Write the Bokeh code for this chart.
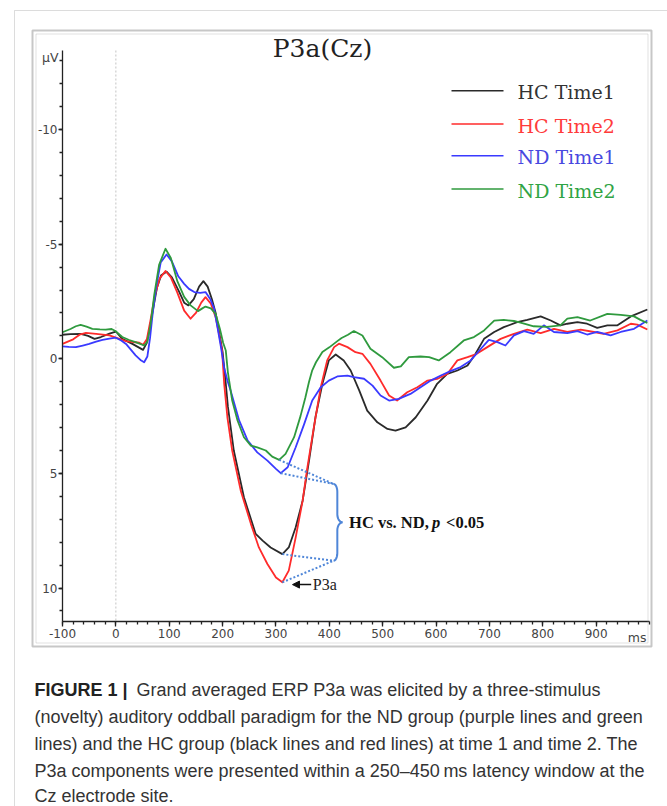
import numpy as np
from bokeh.plotting import figure
from bokeh.models import (Range1d, FixedTicker, Label, BoxAnnotation, Arrow, NormalHead,
                          LinearAxis, PrintfTickFormatter)
from bokeh.embed import file_html
from bokeh.resources import INLINE

# ---------------- data (ms, microvolts) ----------------
HC_T1_MS = [-100, -85, -66, -52, -40, -28, -12, 0, 12, 31, 51, 58, 64, 70, 77, 85, 95, 105, 118, 128,
            136, 146, 156, 164, 172, 180, 187, 194, 200, 206, 210, 221, 240, 262, 275, 290, 312, 324, 337,
            350, 362, 374, 387, 399, 412, 427, 440, 456, 471, 490, 509, 524, 543, 562, 584, 602, 621, 640,
            659, 674, 690, 709, 727, 752, 771, 796, 815, 833, 846, 865, 883, 902, 921, 940, 965, 996]
HC_T1_UV = [-1.05, -1.08, -1.09, -1.00, -0.87, -0.95, -1.10, -1.19, -0.87, -0.65, -0.39, -0.70, -1.40,
            -2.20, -3.10, -3.65, -3.80, -3.55, -2.95, -2.45, -2.33, -2.60, -3.15, -3.39, -3.15, -2.60,
            -2.00, -1.10, -0.30, 1.09, 2.10, 4.00, 6.04, 7.64, 7.93, 8.23, 8.52, 8.23, 7.35, 6.19, 4.44,
            2.55, 1.09, 0.07, -0.19, 0.07, 0.51, 1.38, 2.26, 2.77, 3.06, 3.13, 2.99, 2.55, 1.82, 1.09,
            0.66, 0.51, 0.29, -0.22, -0.87, -1.17, -1.38, -1.60, -1.70, -1.85, -1.67, -1.46, -1.53,
            -1.60, -1.53, -1.35, -1.46, -1.46, -1.85, -2.15]

HC_T2_MS = [-100, -90, -80, -68, -56, -37, -12, 0, 19, 44, 51, 58, 65, 73, 82, 93, 103, 115, 128, 140,
            150, 160, 168, 178, 187, 194, 199, 203, 209, 218, 234, 253, 268, 284, 300, 312, 324, 337, 350,
            359, 371, 384, 396, 409, 418, 434, 449, 462, 477, 496, 512, 527, 546, 565, 584, 602, 621, 640,
            659, 674, 696, 721, 746, 771, 796, 821, 846, 871, 896, 914, 940, 965, 977, 996]
HC_T2_UV = [-0.65, -0.75, -0.85, -1.05, -1.13, -1.09, -1.02, -0.92, -0.77, -0.70, -0.61, -0.85, -1.70,
            -2.75, -3.50, -3.83, -3.55, -2.90, -2.10, -1.75, -2.00, -2.45, -2.69, -2.40, -1.82, -1.00,
            -0.36, 1.09, 2.55, 4.00, 5.75, 7.20, 8.23, 8.95, 9.54, 9.75, 9.24, 7.79, 6.19, 4.73, 2.99,
            1.24, 0.07, -0.51, -0.66, -0.51, -0.29, -0.22, 0.22, 0.95, 1.60, 1.82, 1.46, 1.24, 0.95,
            0.88, 0.66, 0.07, -0.07, -0.19, -0.51, -0.87, -1.09, -1.27, -1.12, -1.31, -1.17, -1.27,
            -1.17, -1.09, -1.24, -1.53, -1.49, -1.28]

ND_T1_MS = [-100, -88, -75, -62, -50, -37, -25, -12, 0, 10, 19, 28, 37, 46, 53, 59, 64, 69, 76, 84, 95,
            105, 117, 128, 137, 147, 158, 168, 177, 184, 191, 197, 203, 209, 215, 231, 247, 265, 284, 300,
            309, 322, 337, 353, 368, 384, 399, 415, 434, 446, 465, 481, 496, 512, 530, 552, 571, 590, 609,
            627, 646, 665, 684, 699, 715, 730, 746, 765, 783, 802, 821, 846, 865, 883, 902, 927, 946, 971, 996]
ND_T1_UV = [-0.54, -0.52, -0.51, -0.58, -0.65, -0.75, -0.83, -0.88, -0.92, -0.80, -0.65, -0.40, -0.15,
            0.05, 0.15, -0.10, -0.90, -1.98, -3.20, -4.20, -4.55, -4.25, -3.60, -3.27, -3.05, -2.91, -2.88,
            -2.91, -2.60, -2.20, -1.30, -0.50, 0.40, 0.95, 1.38, 2.69, 3.57, 4.08, 4.44, 4.80, 4.99, 4.73,
            3.86, 2.84, 1.82, 1.24, 0.95, 0.77, 0.73, 0.80, 0.87, 1.17, 1.60, 1.82, 1.75, 1.53, 1.24, 0.95,
            0.73, 0.54, 0.36, 0.07, -0.44, -0.83, -0.73, -0.58, -1.02, -1.21, -1.09, -1.46, -1.17, -1.12,
            -1.21, -1.06, -1.17, -1.02, -1.17, -1.31, -1.67]

ND_T2_MS = [-100, -85, -75, -66, -55, -44, -30, -19, -8, 0, 12, 25, 37, 53, 59, 65, 72, 81, 93, 103, 115,
            128, 140, 154, 162, 168, 178, 187, 195, 201, 206, 210, 218, 228, 240, 253, 265, 281, 293, 306,
            318, 334, 346, 355, 362, 368, 375, 387, 400, 415, 423, 435, 446, 462, 477, 499, 521, 534, 549,
            571, 587, 605, 627, 652, 671, 690, 709, 727, 746, 765, 783, 808, 833, 846, 865, 889, 921, 946,
            971, 983, 996]
ND_T2_UV = [-1.16, -1.30, -1.42, -1.48, -1.40, -1.31, -1.28, -1.27, -1.30, -1.20, -0.95, -0.82, -0.73,
            -0.58, -0.75, -1.50, -2.80, -4.10, -4.80, -4.40, -3.40, -2.70, -2.33, -2.08, -2.20, -2.28,
            -2.20, -1.96, -1.30, -0.70, -0.36, 0.60, 1.82, 2.69, 3.42, 3.79, 3.86, 4.00, 4.27, 4.41, 4.15,
            3.42, 2.50, 1.70, 1.00, 0.50, 0.15, -0.30, -0.50, -0.77, -0.91, -1.05, -1.21, -1.02, -0.44,
            -0.07, 0.39, 0.33, -0.07, -0.10, -0.07, 0.07, -0.29, -0.80, -0.95, -1.24, -1.67, -1.70, -1.65,
            -1.53, -1.42, -1.39, -1.46, -1.75, -1.82, -1.67, -1.96, -1.92, -1.85, -1.70, -1.56]

SERIES_NAMES = ["HC Time1", "HC Time2", "ND Time1", "ND Time2"]
LINE_COLORS = ["#2a2a2a", "#ff2b2b", "#3a3aff", "#2f9a3e"]
LEGEND_TEXT_COLORS = ["#333333", "#ff3b3b", "#4848e0", "#30a444"]

X_TICKS = list(range(-100, 1000, 100))
X_MINOR = list(range(-100, 1001, 20))
Y_TICKS = [-10, -5, 0, 5, 10]
Y_MINOR = list(range(-13, 12))
X_START, X_END = -100, 1000
Y_TOP, Y_BOTTOM = -13.45, 11.46

# annotation anchors (data units)
BRACE_X_END, BRACE_X_BODY, BRACE_X_TIP = 408, 415, 425
BRACE_TOP, BRACE_BOT = 5.46, 8.81
SIG_TEXT_X = 437
P3A_ARROW_FROM, P3A_ARROW_TO, P3A_Y, P3A_TEXT_X = 366, 331, 9.85, 369
TROUGH_WINDOW = (250, 350)

CAPTION_BOLD = "FIGURE 1 |"
CAPTION_LINES = [
    "Grand averaged ERP P3a was elicited by a three-stimulus",
    "(novelty) auditory oddball paradigm for the ND group (purple lines and green",
    "lines) and the HC group (black lines and red lines) at time 1 and time 2. The",
    "P3a components were presented within a 250\u2013450\u2009ms latency window at the",
    "Cz electrode site.",
]

# ---------------- layout (page pixel coordinates) ----------------
W, H = 667, 806
PAGE_L, PAGE_R, PAGE_T, PAGE_B = 0, W, 0, H
PLOT_L, PLOT_R, PLOT_T, PLOT_B = 62, 649, 50, 621   # where the data area sits on the page

kx = (X_END - X_START) / (PLOT_R - PLOT_L)      # ms per pixel
ky = (Y_BOTTOM - Y_TOP) / (PLOT_B - PLOT_T)     # uV per pixel (downwards)
ms_range = Range1d(X_START - (PLOT_L - PAGE_L) * kx, X_END + (PAGE_R - PLOT_R) * kx)
uv_range = Range1d(Y_TOP + (PAGE_B - PLOT_T) * ky, Y_TOP + (PAGE_T - PLOT_T) * ky)

p = figure(width=W, height=H, output_backend="svg", toolbar_location=None,
           x_range=Range1d(PAGE_L, PAGE_R), y_range=Range1d(PAGE_B, PAGE_T),
           x_axis_location=None, y_axis_location=None, min_border=0,
           background_fill_color="white", border_fill_color="white", outline_line_color=None)
p.title.visible = False
p.grid.visible = False
p.extra_x_ranges = {"ms": ms_range}
p.extra_y_ranges = {"uv": uv_range}
D = dict(x_range_name="ms", y_range_name="uv")

xaxis = LinearAxis(fixed_location=Y_BOTTOM, bounds=(X_START, X_END),
                   ticker=FixedTicker(ticks=X_TICKS, minor_ticks=X_MINOR),
                   formatter=PrintfTickFormatter(format="%d"), **D)
yaxis = LinearAxis(fixed_location=X_START, bounds=(Y_TOP, Y_BOTTOM),
                   ticker=FixedTicker(ticks=Y_TICKS, minor_ticks=Y_MINOR),
                   formatter=PrintfTickFormatter(format="%d"), **D)
for ax in (xaxis, yaxis):
    ax.axis_line_color = "#222222"
    ax.axis_line_width = 1.3
    ax.major_tick_line_color = "#222222"
    ax.minor_tick_line_color = "#222222"
    ax.major_tick_line_width = 1.3
    ax.minor_tick_line_width = 1.3
    ax.major_tick_in = 0
    ax.minor_tick_in = 0
    ax.major_label_text_font = "DejaVu Sans"
    ax.major_label_text_font_size = "12px"
    ax.major_label_text_color = "#444444"
xaxis.major_tick_out = 5
xaxis.minor_tick_out = 3
xaxis.major_label_standoff = 2
yaxis.major_tick_out = 4
yaxis.minor_tick_out = 3
yaxis.major_label_standoff = 1
p.add_layout(xaxis, "below")
p.add_layout(yaxis, "left")

# outer picture border and double chart frame (page coordinates)
p.add_layout(BoxAnnotation(left=14, right=720, top=10, bottom=900, fill_alpha=0,
                           line_color="#8a8a8a", line_width=1))
p.add_layout(BoxAnnotation(left=32, right=651, top=30, bottom=646, fill_alpha=0,
                           line_color="#444444", line_width=2))
p.add_layout(BoxAnnotation(left=35.5, right=647.5, top=33.5, bottom=642.5, fill_alpha=0,
                           line_color="#9a9a9a", line_width=1))

# stimulus onset (dotted)
p.segment(x0=[0], y0=[Y_TOP], x1=[0], y1=[Y_BOTTOM], line_color="#c4c4c4", line_width=1,
          line_dash="2 2", **D)

# curves
series = [(HC_T1_MS, HC_T1_UV), (HC_T2_MS, HC_T2_UV), (ND_T1_MS, ND_T1_UV), (ND_T2_MS, ND_T2_UV)]
troughs = []
for (xs, ys), col in zip(series, LINE_COLORS):
    p.line(xs, ys, line_color=col, line_width=1.8, line_join="round", **D)
    xa, ya = np.array(xs), np.array(ys)
    m = (xa >= TROUGH_WINDOW[0]) & (xa <= TROUGH_WINDOW[1])
    i = np.argmax(np.where(m, ya, -1e9))
    troughs.append((xa[i], ya[i]))

# dotted connectors (ND -> brace top, HC -> brace bottom)
BRACE_BLUE = "#4f86d8"
for k, (tx, ty) in enumerate(troughs):
    yend = BRACE_BOT if k < 2 else BRACE_TOP
    p.segment(x0=[tx], y0=[ty], x1=[BRACE_X_END], y1=[yend], line_color=BRACE_BLUE,
              line_width=2, line_dash="2 2", **D)


def brace(xe, xb, xt, yt, yb, r=0.35, n=12):
    ym = 0.5 * (yt + yb)
    t = np.linspace(0, np.pi / 2, n)
    xs, ys = [], []
    xs += list(xe + (xb - xe) * np.sin(t)); ys += list(yt + r * (1 - np.cos(t)))
    xs += list(xb + (xt - xb) * (1 - np.cos(t))); ys += list(ym - r + r * np.sin(t))
    xs += list(xb + (xt - xb) * (1 - np.cos(t[::-1]))); ys += list(ym + r - r * np.sin(t[::-1]))
    xs += list(xe + (xb - xe) * np.sin(t[::-1])); ys += list(yb - r * (1 - np.cos(t[::-1])))
    return xs, ys


bx, by = brace(BRACE_X_END, BRACE_X_BODY, BRACE_X_TIP, BRACE_TOP, BRACE_BOT)
p.line(bx, by, line_color=BRACE_BLUE, line_width=2, **D)

ymid = 0.5 * (BRACE_TOP + BRACE_BOT)
sig_font = "Liberation Serif"
p.add_layout(Label(x=SIG_TEXT_X, y=ymid, text="HC vs. ND,", text_font=sig_font, text_font_style="bold",
                   text_font_size="16.5px", text_baseline="middle", text_color="#111111", **D))
p.add_layout(Label(x=SIG_TEXT_X, y=ymid, x_offset=83, text="p", text_font=sig_font,
                   text_font_style="bold italic", text_font_size="16.5px", text_baseline="middle",
                   text_color="#111111", **D))
p.add_layout(Label(x=SIG_TEXT_X, y=ymid, x_offset=97, text="<0.05", text_font=sig_font,
                   text_font_style="bold", text_font_size="16.5px", text_baseline="middle",
                   text_color="#111111", **D))

p.add_layout(Arrow(end=NormalHead(size=7, fill_color="#111111", line_color="#111111"),
                   x_start=P3A_ARROW_FROM, y_start=P3A_Y, x_end=P3A_ARROW_TO, y_end=P3A_Y,
                   line_color="#111111", line_width=1.5, **D))
p.add_layout(Label(x=P3A_TEXT_X, y=P3A_Y, text="P3a", text_font="Liberation Serif",
                   text_font_size="16px", text_baseline="middle", text_color="#222222", **D))

# title, unit labels (page coordinates)
p.add_layout(Label(x=322, y=48, text="P3a(Cz)", text_font="DejaVu Serif", text_font_size="25px",
                   text_align="center", text_baseline="middle", text_color="#222222"))
p.add_layout(Label(x=58, y=57, text="\u03bcV", text_font="DejaVu Sans", text_font_size="12.5px",
                   text_align="right", text_baseline="middle", text_color="#444444"))
p.add_layout(Label(x=646, y=637, text="ms", text_font="DejaVu Sans", text_font_size="12.5px",
                   text_align="right", text_baseline="middle", text_color="#444444"))

# legend
LEG_ROWS = [91.7, 125, 156.7, 190]
for name, lc, tc, ry in zip(SERIES_NAMES, LINE_COLORS, LEGEND_TEXT_COLORS, LEG_ROWS):
    p.segment(x0=[451], y0=[ry - 1.5], x1=[503], y1=[ry - 1.5], line_color=lc, line_width=1.6)
    p.add_layout(Label(x=517, y=ry, text=name, text_font="DejaVu Serif", text_font_size="19px",
                       text_baseline="middle", text_color=tc))

# caption
CAP_Y = [689, 716, 743, 770, 795]
cap_font = "Liberation Sans"
p.add_layout(Label(x=34, y=CAP_Y[0], text=CAPTION_BOLD, text_font=cap_font, text_font_style="bold",
                   text_font_size="18px", text_baseline="middle", text_color="#222222"))
for k, (line, cy) in enumerate(zip(CAPTION_LINES, CAP_Y)):
    x0 = 136 if k == 0 else 34
    p.add_layout(Label(x=x0, y=cy, text=line, text_font=cap_font, text_font_size="18px",
                       text_baseline="middle", text_color="#333333"))

open("out.html", "w").write(file_html(p, INLINE))
